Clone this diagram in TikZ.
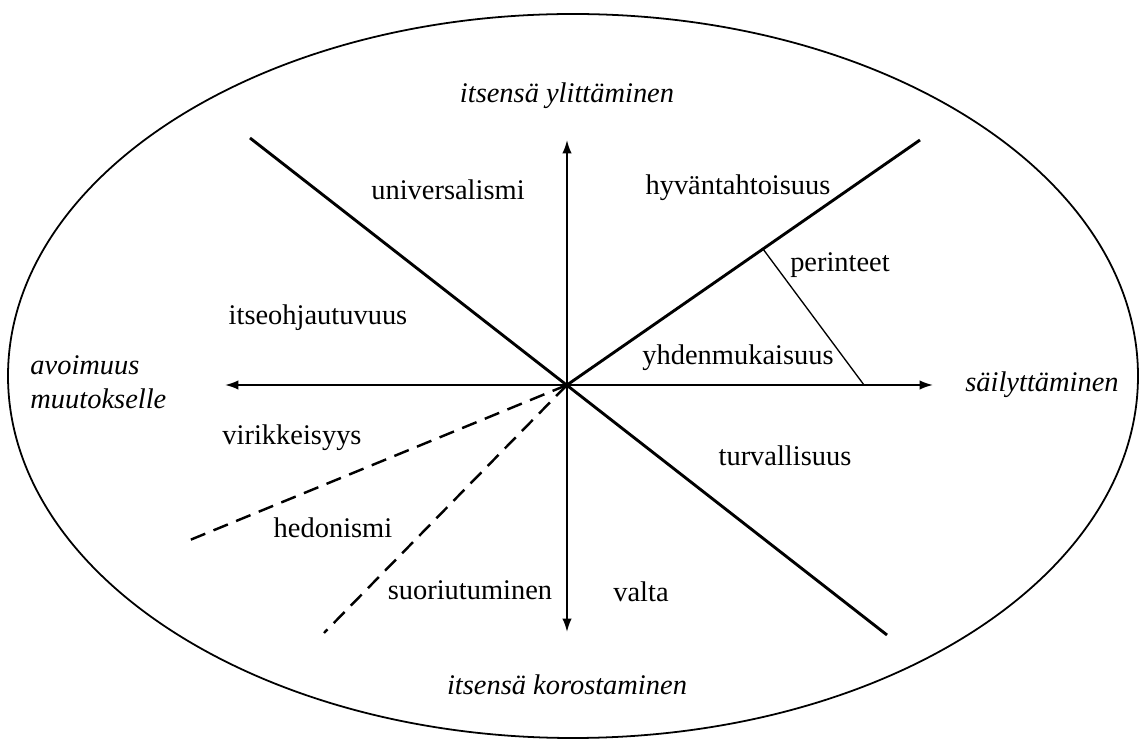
\documentclass[tikz,border=0pt]{standalone}
\usepackage{fontspec}
\setmainfont{Liberation Serif}
\usetikzlibrary{arrows.meta}
\begin{document}
\begin{tikzpicture}[x=0.45pt,y=-0.45pt,
  lbl/.style={font=\fontsize{12.8}{15.5}\selectfont, inner sep=0pt},
  ilbl/.style={font=\fontsize{12.8}{15.5}\selectfont\itshape, inner sep=0pt},
  divider/.style={line width=1.3pt},
  thin divider/.style={line width=0.6pt},
  dashdiv/.style={line width=1.1pt, dash pattern=on 7pt off 4pt},
  axis/.style={line width=0.8pt, -{Latex[length=6pt,width=4.2pt]}},
  oval/.style={line width=0.8pt}]
\useasboundingbox (0,0) rectangle (1141,740);
\draw[oval] (573,376) ellipse [x radius=565, y radius=362];
\coordinate (O) at (567,385);
\coordinate (top) at (567,140);
\coordinate (bot) at (567,632);
\coordinate (lft) at (225,385);
\coordinate (rgt) at (933,385);
\coordinate (ul) at (250,138);
\coordinate (lr) at (887,635);
\coordinate (ur) at (920,140);
\coordinate (d1) at (190,540);
\coordinate (d2) at (324,633);
\coordinate (p1) at (763,249);
\coordinate (p2) at (864,385);
\draw[axis] (O) -- (top);
\draw[axis] (O) -- (bot);
\draw[axis] (O) -- (lft);
\draw[axis] (O) -- (rgt);
\draw[divider] (ul) -- (lr);
\draw[divider] (O) -- (ur);
\draw[thin divider] (p1) -- (p2);
\draw[dashdiv] (O) -- (d1);
\draw[dashdiv] (O) -- (d2);
\node[ilbl] (n1) at (567,96) {itsensä ylittäminen};
\node[ilbl] (n2) at (567,685) {itsensä korostaminen};
\node[ilbl] (n4) at (1042,385) {säilyttäminen};
\node[ilbl, align=left, anchor=west] (n5) at (30,382) {avoimuus\\muutokselle};
\node[lbl] (l1) at (448,190) {universalismi};
\node[lbl] (l2) at (738,188) {hyväntahtoisuus};
\node[lbl] (l3) at (840,265) {perinteet};
\node[lbl] (l4) at (318,318) {itseohjautuvuus};
\node[lbl] (l5) at (738,358) {yhdenmukaisuus};
\node[lbl] (l6) at (292,438) {virikkeisyys};
\node[lbl] (l7) at (785,456) {turvallisuus};
\node[lbl] (l8) at (333,528) {hedonismi};
\node[lbl] (l9) at (470,590) {suoriutuminen};
\node[lbl] (l10) at (641,592) {valta};
\end{tikzpicture}
\end{document}
